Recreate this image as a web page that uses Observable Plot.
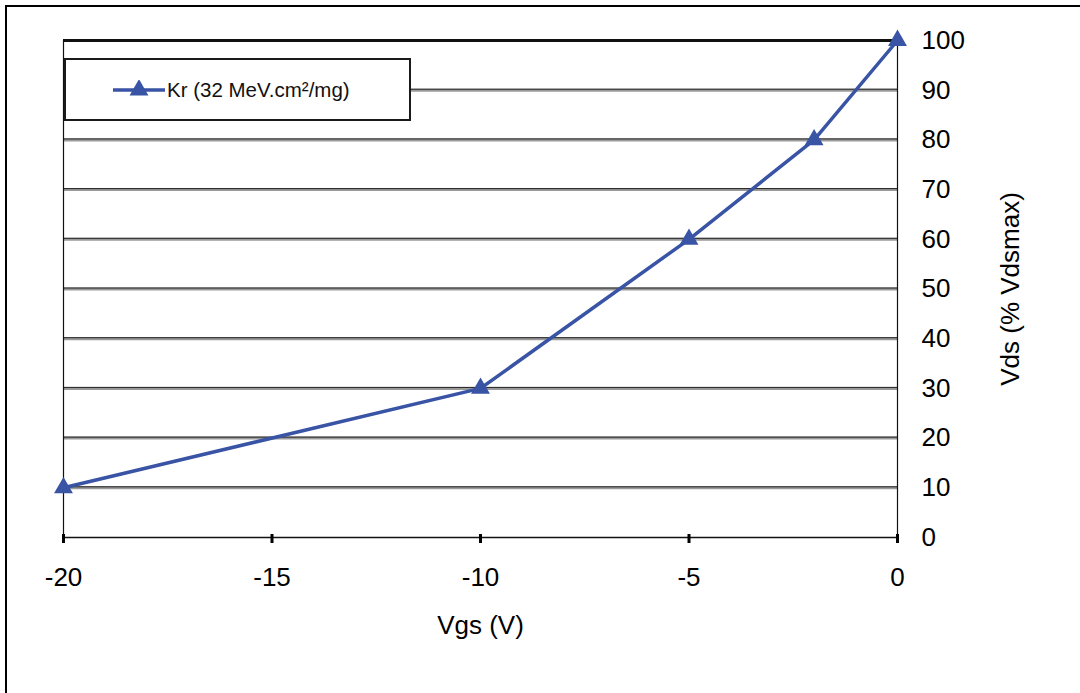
<!DOCTYPE html>
<html>
<head>
<meta charset="utf-8">
<script src="https://cdn.jsdelivr.net/npm/d3@7"></script>
<script src="https://cdn.jsdelivr.net/npm/@observablehq/plot@0.6"></script>
<style>
  html, body { margin: 0; padding: 0; background: #fff; }
  #wrap { position: relative; width: 1080px; height: 693px; overflow: hidden; font-family: "Liberation Sans", Arial, Helvetica, sans-serif; }
  #frame { position: absolute; left: 5px; top: 5px; width: 1100px; height: 800px; border-left: 2px solid #000; border-top: 2px solid #000; box-sizing: border-box; }
  #chart { position: absolute; left: 0; top: 0; }
  #legend { position: absolute; left: 64px; top: 58px; width: 347px; height: 63px; box-sizing: border-box; border: 2px solid #1a1a1a; background: #fff; display: flex; align-items: center; padding-left: 46px; font-size: 20.5px; color: #111; }
  #legend svg { margin-right: 1px; }
</style>
</head>
<body>
<div id="wrap">
  <div id="frame"></div>
  <div id="chart"></div>
  <div id="legend"></div>
</div>
<script>
// Data
const seriesName = "Kr (32 MeV.cm²/mg)";
const vgs = [-20, -10, -5, -2, 0];
const vds = [10, 30, 60, 80, 100];
const xTicks = [-20, -15, -10, -5, 0];
const yTicks = [0, 10, 20, 30, 40, 50, 60, 70, 80, 90, 100];
const gridTicks = [10, 20, 30, 40, 50, 60, 70, 80, 90];
const xTitle = "Vgs (V)";
const yTitle = "Vds (% Vdsmax)";
const lineColor = "#3953a5";

const data = vgs.map((v, i) => ({x: v, y: vds[i]}));

const chart = Plot.plot({
  width: 1080,
  height: 693,
  marginLeft: 63,
  marginRight: 183,
  marginTop: 40,
  marginBottom: 156,
  style: {fontFamily: '"Liberation Sans", Arial, Helvetica, sans-serif', background: "transparent", color: "#000"},
  x: {domain: [-20, 0]},
  y: {domain: [0, 100]},
  marks: [
    Plot.ruleY(gridTicks, {stroke: "#9a9a9a", strokeWidth: 3}),
    Plot.ruleY(gridTicks, {stroke: "#222", strokeWidth: 1, dy: -1}),
    Plot.ruleY([100], {stroke: "#111", strokeWidth: 3}),
    Plot.ruleX([-20, 0], {stroke: "#111", strokeWidth: 1.2}),
    Plot.ruleY([0], {stroke: "#111", strokeWidth: 1.5}),
    Plot.axisX({ticks: xTicks, tickSize: 6, tickPadding: 24, strokeWidth: 3, fontSize: 26, tickFormat: d => d.toString(), label: null}),
    Plot.ruleX(xTicks, {x: d => d, y1: 0, y2: 0, dy: -3, stroke: "#000", strokeWidth: 3, insetBottom: -3}),
    Plot.axisY({anchor: "right", ticks: yTicks, tickSize: 0, tickPadding: 24, fontSize: 26, label: yTitle, labelAnchor: "center", labelArrow: "none", labelOffset: 121}),
    Plot.line(data, {x: "x", y: "y", stroke: lineColor, strokeWidth: 3.5}),
    Plot.dot(data, {x: "x", y: "y", symbol: "triangle", r: 7, fill: lineColor, stroke: "none"}),
    Plot.text([xTitle], {frameAnchor: "bottom", dy: 88, fontSize: 26, lineAnchor: "middle"})
  ]
});
document.getElementById("chart").appendChild(chart);

// Legend (HTML overlay)
const legend = document.getElementById("legend");
const ns = "http://www.w3.org/2000/svg";
const sw = document.createElementNS(ns, "svg");
sw.setAttribute("width", 54); sw.setAttribute("height", 20);
const ln = document.createElementNS(ns, "line");
ln.setAttribute("x1", 1); ln.setAttribute("x2", 53); ln.setAttribute("y1", 10); ln.setAttribute("y2", 10);
ln.setAttribute("stroke", lineColor); ln.setAttribute("stroke-width", 3.5);
const tri = document.createElementNS(ns, "path");
tri.setAttribute("d", d3.symbol(d3.symbolTriangle, Math.PI * 7 * 7)());
tri.setAttribute("transform", "translate(27,10)");
tri.setAttribute("fill", lineColor);
sw.appendChild(ln); sw.appendChild(tri);
legend.appendChild(sw);
const lt = document.createElement("span");
lt.textContent = seriesName;
legend.appendChild(lt);
</script>
</body>
</html>
